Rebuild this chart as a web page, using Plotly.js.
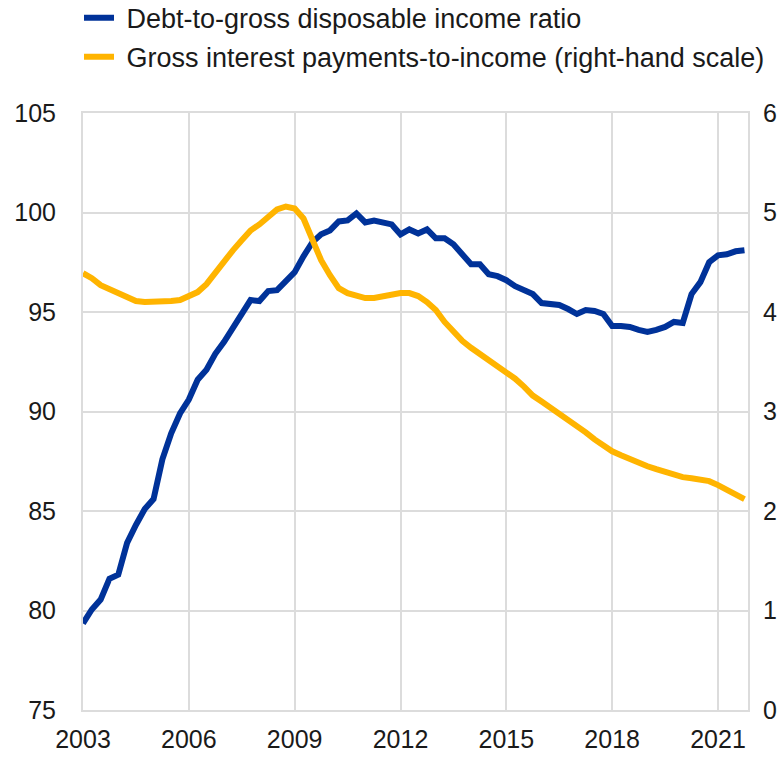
<!DOCTYPE html>
<html>
<head>
<meta charset="utf-8">
<script src="https://cdn.plot.ly/plotly-3.0.1.min.js"></script>
<style>
  html, body { margin: 0; padding: 0; background: #fff; }
  #chart { width: 779px; height: 758px; }
</style>
</head>
<body>
<div id="chart"></div>
<script>
// Quarterly observations, 2003 Q1 to 2021 Q4
const quarters = [];
for (let y = 2003; y <= 2021; y++) { for (let q = 0; q < 4; q++) { quarters.push(y + q / 4); } }

const seriesNames = [
  "Debt-to-gross disposable income ratio",
  "Gross interest payments-to-income (right-hand scale)"
];

// Debt-to-gross disposable income ratio (left scale, %)
const debtRatio = [
  79.35, 80.05, 80.55, 81.6, 81.8, 83.4, 84.3, 85.1,
  85.6, 87.6, 88.9, 89.9, 90.6, 91.6, 92.1, 92.9,
  93.5, 94.2, 95.0, 95.6, 95.55, 96.05, 96.1, 96.5,
  97.0, 97.8, 98.5, 98.9, 99.1, 99.55, 99.6, 99.95,
  99.5, 99.6, 99.5, 99.4, 98.9, 99.15, 98.95, 99.15,
  98.7, 98.7, 98.4, 97.9, 97.4, 97.4, 96.9, 96.8,
  96.6, 96.3, 96.1, 95.9, 95.45, 95.4, 95.35, 95.15,
  94.9, 95.1, 95.05, 94.9, 94.3, 94.3, 94.25, 94.1,
  94.0, 94.1, 94.25, 94.5, 94.45, 95.9, 96.5, 97.5,
  97.85, 97.9, 98.05, 98.1
];

// Gross interest payments-to-income (right scale, %)
const interestRatio = [
  4.39, 4.34, 4.27, 4.23, 4.19, 4.15, 4.11, 4.10,
  4.10, 4.10, 4.11, 4.12, 4.16, 4.20, 4.28, 4.40,
  4.50, 4.62, 4.72, 4.82, 4.88, 4.96, 5.03, 5.06,
  5.04, 4.94, 4.72, 4.52, 4.37, 4.24, 4.19, 4.16,
  4.14, 4.14, 4.16, 4.18, 4.19, 4.19, 4.16, 4.10,
  4.02, 3.90, 3.80, 3.71, 3.64, 3.58, 3.52, 3.46,
  3.40, 3.33, 3.25, 3.16, 3.10, 3.04, 2.98, 2.92,
  2.86, 2.79, 2.72, 2.66, 2.60, 2.56, 2.52, 2.49,
  2.45, 2.42, 2.39, 2.36, 2.34, 2.33, 2.32, 2.30,
  2.26, 2.21, 2.16, 2.12
];

const xTickVals = [2003, 2006, 2009, 2012, 2015, 2018, 2021];
const xTickText = ["2003", "2006", "2009", "2012", "2015", "2018", "2021"];
const yLeftTicks = [75, 80, 85, 90, 95, 100, 105];
const yRightTicks = [0, 1, 2, 3, 4, 5, 6];

const FONT = "Liberation Sans, Arial, sans-serif";
const GRID = "#dcdcdc";

const traces = [
  {
    x: quarters, y: debtRatio, name: "\u00A0" + seriesNames[0], type: "scatter", mode: "lines",
    line: { color: "#003299", width: 6 }, yaxis: "y", legendgroup: "a"
  },
  {
    x: quarters, y: interestRatio, name: "\u00A0" + seriesNames[1], type: "scatter", mode: "lines",
    line: { color: "#FFB400", width: 6 }, yaxis: "y2", legendgroup: "b"
  }
];

const layout = {
  width: 779, height: 758,
  margin: { l: 83, r: 31, t: 113, b: 48, autoexpand: false },
  paper_bgcolor: "#ffffff", plot_bgcolor: "#ffffff",
  font: { family: FONT, size: 25, color: "#1a1a1a" },
  showlegend: true,
  legend: {
    x: -0.006, y: 1.2, xanchor: "left", yanchor: "top",
    font: { family: FONT, size: 27, color: "#1a1a1a" },
    traceorder: "grouped", tracegroupgap: 1,
    bgcolor: "rgba(0,0,0,0)", itemwidth: 30
  },
  xaxis: {
    range: [2003, 2021.85], tickmode: "array", tickvals: xTickVals, ticktext: xTickText,
    showgrid: true, gridcolor: GRID, gridwidth: 2,
    showline: true, linecolor: GRID, linewidth: 2, mirror: true,
    zeroline: false, ticks: "", ticklabelstandoff: 6,
    tickfont: { family: FONT, size: 25, color: "#1a1a1a" }
  },
  yaxis: {
    range: [75, 105], tickmode: "array", tickvals: yLeftTicks,
    showgrid: true, gridcolor: GRID, gridwidth: 2,
    showline: true, linecolor: GRID, linewidth: 2, mirror: true,
    zeroline: false, ticks: "", ticklabelstandoff: 20,
    tickfont: { family: FONT, size: 25, color: "#1a1a1a" }
  },
  yaxis2: {
    range: [0, 6], tickmode: "array", tickvals: yRightTicks,
    overlaying: "y", side: "right", showgrid: false, zeroline: false,
    showline: false, ticks: "", ticklabelstandoff: 14,
    tickfont: { family: FONT, size: 25, color: "#1a1a1a" }
  },
  shapes: [
    { type: "line", xref: "paper", x0: 0, x1: 1, yref: "y", y0: 95, y1: 95,
      line: { color: "#b8b8b8", width: 2 }, layer: "below" }
  ]
};

Plotly.newPlot("chart", traces, layout, { displayModeBar: false, staticPlot: true });
</script>
</body>
</html>
